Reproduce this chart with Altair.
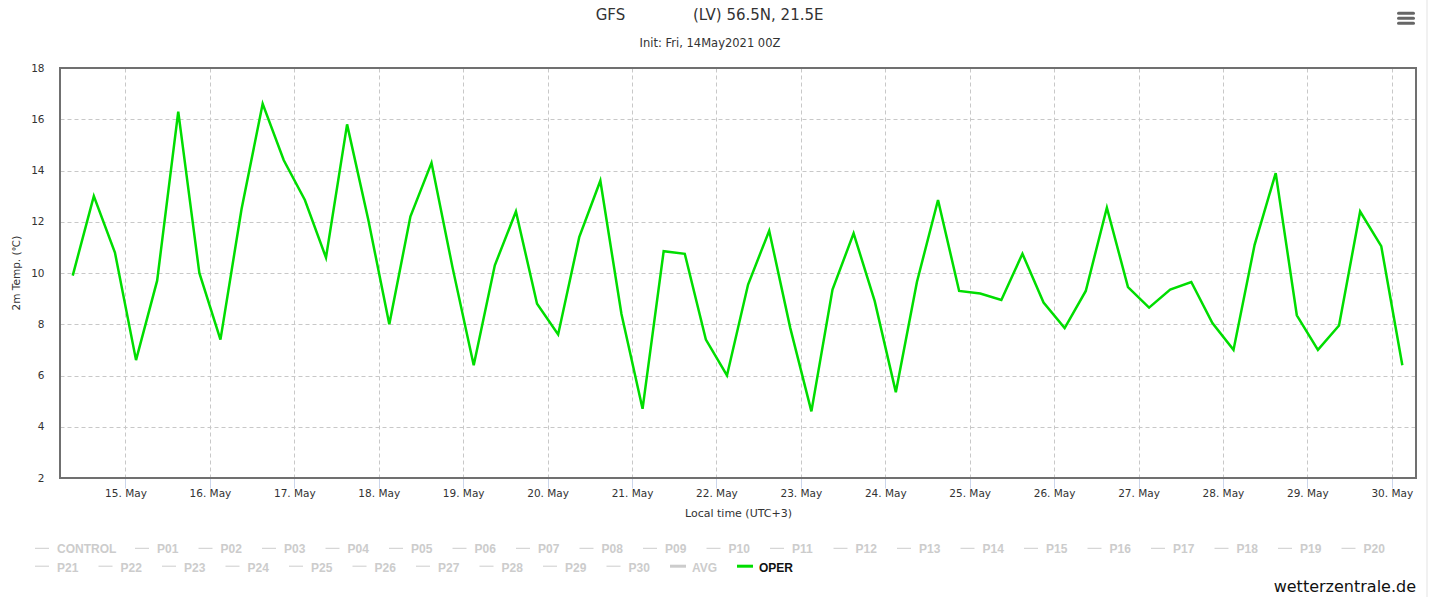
import altair as alt
import pandas as pd

# ---------------- data ----------------
first_time = "2021-05-14 09:00"   # local time (UTC+3), 6-hourly steps
step = "6h"
temps = [9.9, 13.0, 10.8, 6.6, 9.7, 16.3, 10.0, 7.4, 12.5, 16.6,
         14.4, 12.85, 10.6, 15.8, 12.1, 8.0, 12.2, 14.3, 10.2, 6.4,
         10.3, 12.4, 8.8, 7.6, 11.4, 13.6, 8.4, 4.7, 10.85, 10.75,
         7.4, 6.0, 9.55, 11.65, 7.85, 4.6, 9.35, 11.55, 8.9, 5.35,
         9.65, 12.85, 9.3, 9.2, 8.95, 10.75, 8.85, 7.85, 9.3, 12.55,
         9.45, 8.65, 9.35, 9.65, 8.05, 7.0, 11.1, 13.9, 8.35, 7.0,
         7.95, 12.4, 11.05, 6.4]
tick_days = list(range(15, 31))
y_ticks = [2, 4, 6, 8, 10, 12, 14, 16, 18]
row1_names = ["CONTROL"] + [f"P{i:02d}" for i in range(1, 21)]
row2_names = [f"P{i:02d}" for i in range(21, 31)] + ["AVG", "OPER"]

title_left = "GFS"
title_right = "(LV) 56.5N, 21.5E"
subtitle = "Init: Fri, 14May2021 00Z"
y_title = "2m Temp. (\u2103)"
x_title = "Local time (UTC+3)"
credit = "wetterzentrale.de"

times = pd.date_range(first_time, periods=len(temps), freq=step)
df = pd.DataFrame({"time": times.strftime("%Y-%m-%dT%H:%M:%SZ"), "temp": temps})

# ---------------- layout ----------------
W, H = 1356, 410
OX, OY = 60, 68   # plot origin on page
FONT = "DejaVu Sans"
GRID = "#c8c8c8"

def dt(d, h=0, m=0):
    return alt.DateTime(year=2021, month=5, date=d, hours=h, minutes=m, utc=True)

line = alt.Chart(df).mark_line(color="#00dd00", strokeWidth=2.5, strokeJoin="miter").encode(
    x=alt.X("time:T",
            scale=alt.Scale(type="utc", domain=[dt(14, 5, 23), dt(30, 6, 53)]),
            axis=alt.Axis(values=[dt(d) for d in tick_days], format="%-d. %b",
                          title=None, grid=True, gridColor=GRID, gridDash=[4, 3],
                          gridWidth=1, domain=False, ticks=True, tickSize=10,
                          tickColor="#ccd6eb", tickWidth=1, labelPadding=0,
                          labelFont=FONT, labelFontSize=10.5, labelColor="#333333",
                          labelFlush=False, labelOverlap=False)),
    y=alt.Y("temp:Q",
            scale=alt.Scale(domain=[2, 18], nice=False, zero=False),
            axis=alt.Axis(values=y_ticks, title=None, grid=True, gridColor=GRID,
                          gridDash=[4, 3], gridWidth=1, domain=False, ticks=False,
                          tickSize=0, labelPadding=16, labelFont=FONT,
                          labelFontSize=10.5, labelColor="#333333")),
)

blank = alt.Data(values=[{}])

def txt(s, px, py, size, color="#333333", font=FONT, weight="normal",
        align="center", baseline="alphabetic", angle=None):
    kw = dict(text=s, font=font, fontSize=size, color=color, fontWeight=weight,
              align=align, baseline=baseline)
    if angle is not None:
        kw["angle"] = angle
    return alt.Chart(blank).mark_text(**kw).encode(
        x=alt.value(px - OX), y=alt.value(py - OY))

texts = [
    txt(title_left, 610.5, 20, 15),
    txt(title_right, 693, 20, 15, align="left"),
    txt(subtitle, 710, 46.5, 11.5),
    txt(y_title, 17, 273, 10.5, baseline="middle", angle=270),
    txt(x_title, 738.5, 517, 11),
    txt(credit, 1416, 592, 16, color="#111111", align="right"),
]

# plot border drawn above the grid
frame = alt.Chart(blank).mark_rect(fill=None, fillOpacity=0, stroke="#707070",
                                   strokeWidth=2).encode(
    x=alt.value(0), x2=alt.value(W), y=alt.value(0), y2=alt.value(H))

# hamburger menu icon
menu = [
    alt.Chart(blank).mark_rule(color="#666666", strokeWidth=3, strokeCap="round").encode(
        x=alt.value(1398.5 - OX), x2=alt.value(1413.5 - OX), y=alt.value(yy - OY))
    for yy in (13.3, 18.3, 23.3)
]
edge = alt.Chart(blank).mark_rule(color="#e3e3e3", strokeWidth=1).encode(
    x=alt.value(1427 - OX), y=alt.value(-OY), y2=alt.value(597 - OY))

# ---------------- legend (manual, Highcharts-like flow) ----------------
slot = {"CONTROL": 100.0, "AVG": 67.0}
rows = []
for names, dash_y, text_y in ((row1_names, 548.3, 553.3), (row2_names, 566.2, 571.7)):
    cx = 35.0
    for n in names:
        thick = n in ("AVG", "OPER")
        rows.append({
            "name": n,
            "x1": cx - OX, "x2": cx + (16 if thick else 14) - OX,
            "yl": dash_y - OY,
            "xt": cx + 22 - OX, "yt": text_y - OY,
            "lc": "#00dd00" if n == "OPER" else "#cccccc",
            "lw": 3 if thick else 1,
            "tc": "#111111" if n == "OPER" else "#cccccc",
        })
        cx += slot.get(n, 63.5)
leg = pd.DataFrame(rows)

leg_lines = alt.Chart(leg).mark_rule().encode(
    x=alt.X("x1:Q", scale=None, axis=None), x2="x2:Q",
    y=alt.Y("yl:Q", scale=None, axis=None),
    color=alt.Color("lc:N", scale=None, legend=None),
    strokeWidth=alt.StrokeWidth("lw:Q", scale=None, legend=None),
)
leg_text = alt.Chart(leg).mark_text(align="left", baseline="alphabetic",
                                    font="Liberation Sans", fontSize=12,
                                    fontWeight="bold").encode(
    x=alt.X("xt:Q", scale=None, axis=None),
    y=alt.Y("yt:Q", scale=None, axis=None),
    text="name:N",
    color=alt.Color("tc:N", scale=None, legend=None),
)

chart = alt.layer(line, frame, *texts, *menu, edge, leg_lines, leg_text).resolve_scale(
    x="independent", y="independent", color="independent"
).properties(
    width=W, height=H,
    padding={"left": OX, "top": OY, "right": 1429 - OX - W, "bottom": 597 - OY - H},
    autosize=alt.AutoSizeParams(type="none"),
    background="white",
).configure_view(stroke=None)

chart.save("out.html", embed_options={"renderer": "svg", "actions": False})
